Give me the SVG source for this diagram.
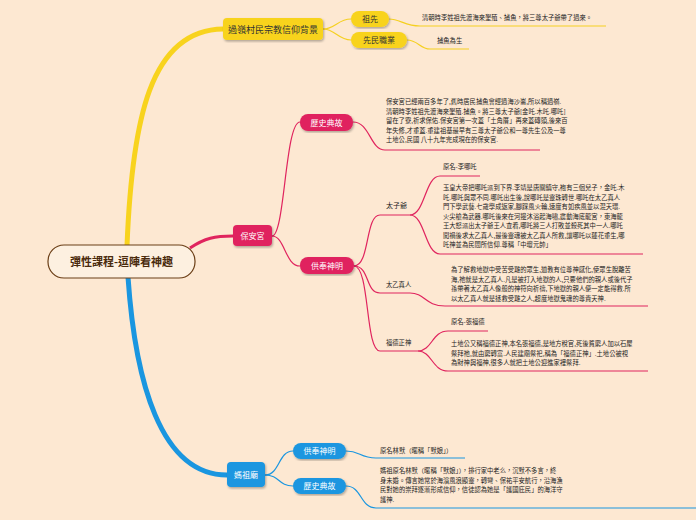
<svg xmlns="http://www.w3.org/2000/svg" width="696" height="520" viewBox="0 0 696 520">
<style>
text{font-family:"Noto Sans CJK TC","Noto Sans CJK SC",sans-serif}
.s{font-size:6.3px;fill:#222}
.l{font-size:7px;fill:#222}
.w{font-size:8px;fill:#fff;text-anchor:middle}
.y{font-size:8px;fill:#333;text-anchor:middle}
.ly{stroke:#f5d020;fill:none;stroke-width:1.2}
.lp{stroke:#e0245e;fill:none;stroke-width:1.2}
.lb{stroke:#1a96e0;fill:none;stroke-width:1.2}
</style>
<defs><filter id="sh"><feDropShadow dx="1" dy="1.5" stdDeviation="1" flood-opacity="0.3"/></filter></defs>
<rect width="696" height="520" fill="#fde8d2"/>
<g id="connectors">
<path d="M127,246 C132,120 150,30 223,29" stroke="#f8d31e" stroke-width="5" fill="none"/>
<path d="M128,277 C135,380 160,475 227,475" stroke="#1a96e0" stroke-width="5" fill="none"/>
<path d="M190,248 C205,238 215,236 233,236" stroke="#e0245e" stroke-width="3" fill="none"/>
<path class="ly" d="M323,29 C335,29 338,19 351,19"/>
<path class="ly" d="M323,29 C335,29 338,40 351,40"/>
<path class="ly" d="M389,19 C400,19 405,26 420,26 L606,26"/>
<path class="ly" d="M407,40 C418,40 420,49 430,49 L469,49"/>
<path class="lp" d="M272,236 C285,236 285,122 300,122"/>
<path class="lp" d="M272,236 C285,236 285,266 300,266"/>
<path class="lp" d="M353,122 C370,122 370,150 385,150 L540,150"/>
<path class="lp" d="M354,266 C370,266 365,215 380,215 L410,215"/>
<path class="lp" d="M354,266 C370,266 365,293 380,293 L410,293"/>
<path class="lp" d="M354,266 C370,266 365,351 380,351 L418,351"/>
<path class="lp" d="M410,215 C425,215 425,176 440,176 L480,176"/>
<path class="lp" d="M410,215 C425,215 425,254 440,254 L643,254"/>
<path class="lp" d="M410,293 C425,293 425,306 445,306 L648,306"/>
<path class="lp" d="M418,351 C432,351 432,331 448,331 L488,331"/>
<path class="lp" d="M418,351 C432,351 432,371 448,371 L648,371"/>
<path class="lb" d="M265,475 C280,475 278,451 293,451"/>
<path class="lb" d="M265,475 C280,475 278,486 293,486"/>
<path class="lb" d="M346,451 C360,451 360,458 376,458 L465,458"/>
<path class="lb" d="M346,486 C362,486 360,508 376,508 L696,508"/>
</g>
<g id="root"><rect x="48" y="245" width="147" height="33" rx="16" fill="#fdf0e0" stroke="#6b3e16" stroke-width="1.2"/><text x="121.5" y="266" font-size="11" font-weight="bold" fill="#4a2a0c" text-anchor="middle">彈性課程-逗陣看神趣</text></g>
<g id="bg"><rect x="223" y="18" width="100" height="22" rx="4" fill="#f8d31e" filter="url(#sh)"/><text x="273" y="33" font-size="9" fill="#333" text-anchor="middle">過嶺村民宗教信仰背景</text></g>
<g id="zx"><rect x="351" y="11" width="38" height="16" rx="8" fill="#f8d31e" filter="url(#sh)"/><text class="y" x="370" y="22">祖先</text></g>
<g id="xm"><rect x="351" y="32" width="56" height="16" rx="8" fill="#f8d31e" filter="url(#sh)"/><text class="y" x="379" y="43">先民職業</text></g>
<text class="s" x="422" y="20">清朝時李姓祖先渡海來墾殖、捕魚，將三尊太子爺帶了過來。</text>
<text class="s" x="437" y="43">捕魚為生</text>
<g id="bag"><rect x="233" y="225" width="39" height="21" rx="4" fill="#e0245e" filter="url(#sh)"/><text class="w" x="252.5" y="239" font-size="9">保安宮</text></g>
<g id="ls1"><rect x="300" y="114" width="53" height="17" rx="8" fill="#e0245e" filter="url(#sh)"/><text class="w" x="326.5" y="125.5">歷史典故</text></g>
<g id="gf1"><rect x="300" y="257" width="54" height="17" rx="8" fill="#e0245e" filter="url(#sh)"/><text class="w" x="327" y="268.5">供奉神明</text></g>
<g class="s">
<text x="386" y="104">保安宮已經兩百多年了,舊時居民捕魚會經過海沙崙,所以稱過嶺.</text>
<text x="386" y="113.5">清朝時李姓祖先渡海來墾殖.捕魚。將三尊太子爺[金吒.木吒.哪吒]</text>
<text x="386" y="123">留在了寮,祈求保佑.保安宮第一次蓋「土角厝」再來蓋磚頭,後來百</text>
<text x="386" y="132.5">年失修,才重蓋.重建祖基最早有三尊太子爺公和一尊先生公及一尊</text>
<text x="386" y="142">土地公,民國 八十九年完成現在的保安宮.</text>
<text x="386" y="208" class="l">太子爺</text>
<text x="443" y="169">原名-李哪吒</text>
<text x="443" y="190">玉皇大帝把哪吒派到下界.李靖是唐關鎮守,袍有三個兒子，金吒.木</text>
<text x="443" y="199.5">吒.哪吒與眾不同.哪吒出生後,說哪吒是靈珠轉世.哪吒在太乙真人</text>
<text x="443" y="209">門下學武藝.七歲學成返家,腳踩風火輪,速度有如疾風並以混天環.</text>
<text x="443" y="218.5">火尖槍為武器.哪吒後來在河邊沐浴起海嘯,震動海底龍宮，東海龍</text>
<text x="443" y="228">王大怒派出太子爺王人查看,哪吒將三人打敗並殺死其中一人.哪吒</text>
<text x="443" y="237.5">闖禍後求太乙真人,最後靈魂被太乙真人所救,讓哪吒以蓮花重生,哪</text>
<text x="443" y="247">吒神並為民間所信仰.尊稱「中壇元帥」</text>
<text x="386" y="287">太乙真人</text>
<text x="451" y="272">為了解救地獄中受苦受難的眾生,道教有位尊神感化,使眾生脫離苦</text>
<text x="451" y="281.5">海,祂就是太乙真人.凡是被打入地獄的人,只要他們的親人或後代子</text>
<text x="451" y="291">孫帶著太乙真人像般的神符向祈禱,下地獄的親人便一定能得救.所</text>
<text x="451" y="300.5">以太乙真人就是拯救受難之人,超度地獄鬼魂的尊貴天神.</text>
<text x="386" y="345">福德正神</text>
<text x="451" y="324">原名-張福德</text>
<text x="451" y="346">土地公又稱福德正神,本名張福德,是地方稅官,死後貧窮人加以石屋</text>
<text x="451" y="355.5">祭拜祂,就由窮轉富.人民建廟祭祀,稱為「福德正神」.土地公被視</text>
<text x="451" y="365">為財神與福神,很多人就把土地公迎進家裡祭拜.</text>
<text x="380" y="453">原名林默（暱稱「默娘」）</text>
<text x="380" y="473">媽祖原名林默（暱稱「默娘」），排行家中老么，沉默不多言，終</text>
<text x="380" y="482.5">身未婚。傳言她常於海濱風浪顯靈，轉彎、保祐平安航行，沿海漁</text>
<text x="380" y="492">民對她的崇拜逐漸形成信仰，信徒認為她是「護國庇民」的海洋守</text>
<text x="380" y="501.5">護神.</text>
</g>
<g id="mz"><rect x="227" y="462" width="38" height="25" rx="4" fill="#1a96e0" filter="url(#sh)"/><text class="w" x="246" y="478" font-size="9">媽祖廟</text></g>
<g id="gf2"><rect x="293" y="443" width="53" height="16" rx="8" fill="#1a96e0" filter="url(#sh)"/><text class="w" x="319.5" y="454">供奉神明</text></g>
<g id="ls2"><rect x="293" y="478" width="53" height="16" rx="8" fill="#1a96e0" filter="url(#sh)"/><text class="w" x="319.5" y="489">歷史典故</text></g>
</svg>
